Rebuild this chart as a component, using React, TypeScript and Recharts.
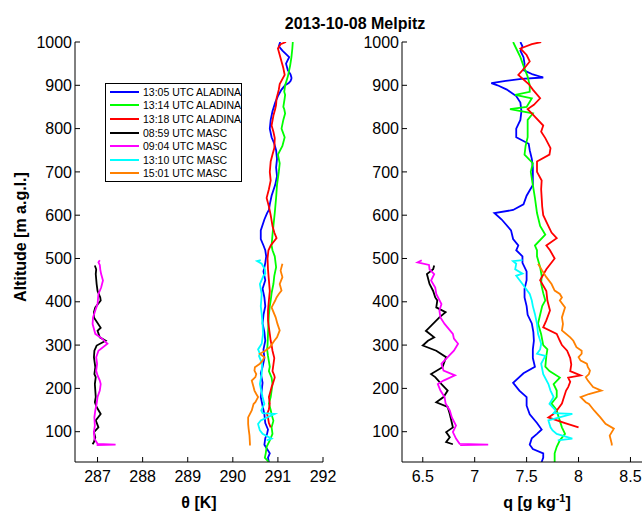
import React from 'react';
import { LineChart, Line, XAxis, YAxis, Legend } from 'recharts';

const FONT = '"Liberation Sans", Arial, Helvetica, sans-serif';

const seriesNames = [
  '13:05 UTC ALADINA',
  '13:14 UTC ALADINA',
  '13:18 UTC ALADINA',
  '08:59 UTC MASC',
  '09:04 UTC MASC',
  '13:10 UTC MASC',
  '15:01 UTC MASC',
];
const seriesColors = ['#0000ff', '#00ff00', '#ff0000', '#000000', '#ff00ff', '#00ffff', '#ff8000'];

const altTicks = [100, 200, 300, 400, 500, 600, 700, 800, 900, 1000];
const thetaTicks = [287, 288, 289, 290, 291, 292];
const qTicks = [6.5, 7, 7.5, 8, 8.5];

// 13:05 ALADINA
const a1305Alt = [30, 40, 50, 60, 70, 85, 95, 105, 120, 140, 160, 180, 195, 213, 235, 250, 270, 290, 310, 330, 350, 370, 390, 410, 430, 450, 470, 490, 505, 519, 530, 545, 565, 590, 605, 612, 625, 645, 670, 690, 710, 730, 750, 765, 780, 800, 820, 840, 860, 875, 890, 900, 905, 910, 915, 918, 925, 935, 950, 965, 980, 990, 1000];
const a1305Theta = [290.8, 290.78, 290.82, 290.76, 290.7, 290.72, 290.76, 290.78, 290.72, 290.7, 290.66, 290.62, 290.64, 290.66, 290.62, 290.66, 290.7, 290.68, 290.72, 290.7, 290.66, 290.68, 290.72, 290.7, 290.66, 290.72, 290.68, 290.72, 290.74, 290.72, 290.68, 290.62, 290.62, 290.7, 290.76, 290.8, 290.82, 290.86, 290.94, 290.98, 290.96, 290.98, 290.96, 290.92, 290.86, 290.82, 290.84, 290.88, 290.94, 291.0, 291.08, 291.16, 291.24, 291.28, 291.3, 291.3, 291.28, 291.22, 291.18, 291.25, 291.1, 291.02, 291.05];
const a1305Q = [7.645, 7.66, 7.66, 7.56, 7.53, 7.55, 7.6, 7.645, 7.6, 7.53, 7.5, 7.5, 7.43, 7.37, 7.47, 7.58, 7.56, 7.56, 7.57, 7.565, 7.55, 7.51, 7.5, 7.48, 7.48, 7.5, 7.5, 7.46, 7.46, 7.4, 7.42, 7.37, 7.35, 7.26, 7.19, 7.37, 7.47, 7.5, 7.56, 7.56, 7.56, 7.55, 7.53, 7.52, 7.4, 7.4, 7.44, 7.45, 7.44, 7.4, 7.31, 7.22, 7.16, 7.3, 7.45, 7.66, 7.56, 7.47, 7.48, 7.47, 7.44, 7.46, 7.44];

// 13:14 ALADINA
const a1314Alt = [30, 40, 50, 65, 80, 95, 110, 125, 140, 150, 165, 180, 195, 210, 225, 240, 250, 275, 290, 300, 325, 350, 370, 390, 403, 420, 441, 460, 480, 505, 519, 530, 555, 575, 605, 640, 670, 700, 720, 740, 760, 780, 800, 820, 835, 845, 850, 870, 878, 885, 900, 920, 945, 965, 985, 1000];
const a1314Theta = [290.8, 290.71, 290.73, 290.75, 290.82, 290.88, 290.86, 290.9, 290.86, 290.84, 290.8, 290.84, 290.86, 290.88, 290.86, 290.8, 290.82, 290.78, 290.76, 290.77, 290.78, 290.79, 290.8, 290.82, 290.84, 290.86, 290.9, 290.92, 290.96, 290.93, 290.88, 290.86, 290.88, 290.9, 290.93, 290.96, 290.98, 291.02, 291.04, 291.0, 291.1, 291.15, 291.08, 291.12, 291.16, 291.14, 291.12, 291.15, 291.16, 291.14, 291.16, 291.22, 291.27, 291.3, 291.32, 291.33];
const a1314Q = [7.77, 7.77, 7.77, 7.79, 7.82, 7.87, 7.84, 7.82, 7.8, 7.79, 7.74, 7.79, 7.79, 7.76, 7.82, 7.72, 7.68, 7.69, 7.7, 7.66, 7.64, 7.61, 7.63, 7.65, 7.68, 7.66, 7.64, 7.645, 7.63, 7.6, 7.6, 7.58, 7.68, 7.63, 7.6, 7.58, 7.56, 7.54, 7.56, 7.48, 7.49, 7.51, 7.51, 7.51, 7.56, 7.34, 7.5, 7.55, 7.39, 7.53, 7.53, 7.51, 7.47, 7.44, 7.4, 7.37];

// 13:18 ALADINA
const a1318Alt = [110, 120, 133, 140, 152, 165, 180, 195, 203, 215, 225, 230, 240, 255, 270, 287, 300, 310, 326, 341, 357, 380, 403, 425, 450, 475, 500, 519, 530, 547, 560, 575, 600, 620, 640, 660, 680, 700, 724, 740, 755, 778, 793, 807, 830, 845, 855, 870, 890, 903, 924, 940, 955, 970, 985, 995, 1000];
const a1318Theta = [290.84, 290.8, 290.78, 290.76, 290.8, 290.82, 290.8, 290.84, 290.86, 290.9, 290.93, 290.92, 290.88, 290.9, 290.92, 290.88, 290.86, 290.84, 290.82, 290.8, 290.78, 290.78, 290.8, 290.82, 290.8, 290.78, 290.77, 290.79, 290.84, 290.97, 290.92, 290.88, 290.84, 290.8, 290.75, 290.8, 290.84, 290.82, 290.84, 290.88, 290.92, 290.93, 290.9, 290.86, 290.9, 290.94, 290.96, 290.97, 291.02, 291.04, 291.15, 291.12, 291.08, 291.04, 291.0, 291.06, 291.18];
const a1318Q = [8.0, 7.87, 7.71, 7.755, 7.8, 7.84, 7.86, 7.88, 7.9, 7.92, 7.9, 8.02, 7.92, 7.93, 7.92, 7.89, 7.84, 7.82, 7.79, 7.66, 7.69, 7.725, 7.7, 7.69, 7.63, 7.69, 7.77, 7.725, 7.69, 7.79, 7.74, 7.71, 7.66, 7.65, 7.645, 7.64, 7.645, 7.6, 7.6, 7.72, 7.73, 7.68, 7.64, 7.66, 7.57, 7.51, 7.57, 7.63, 7.56, 7.52, 7.42, 7.48, 7.53, 7.5, 7.44, 7.55, 7.64];

// 08:59 MASC
const m0859Alt = [71, 76, 87, 99, 110, 126, 141, 157, 168, 180, 195, 210, 226, 233, 249, 272, 287, 299, 310, 318, 333, 340, 364, 376, 387, 403, 410, 425, 441, 464, 475, 484];
const m0859Theta = [286.89, 286.92, 286.95, 286.92, 287.02, 286.96, 287.07, 286.98, 286.94, 286.96, 286.95, 286.94, 286.96, 286.93, 286.95, 286.92, 286.93, 286.98, 287.18, 287.05, 287.0, 287.07, 286.92, 286.92, 286.95, 287.07, 287.06, 287.0, 286.98, 286.96, 286.97, 286.94];
const m0859Q = [6.79, 6.725, 6.76, 6.725, 6.79, 6.775, 6.76, 6.74, 6.63, 6.7, 6.74, 6.68, 6.62, 6.58, 6.69, 6.725, 6.63, 6.5, 6.55, 6.61, 6.53, 6.56, 6.66, 6.72, 6.63, 6.64, 6.62, 6.6, 6.565, 6.54, 6.6, 6.61];

// 09:04 MASC
const m0904Alt = [69, 70, 72, 84, 99, 114, 133, 149, 165, 180, 195, 210, 218, 230, 241, 257, 272, 287, 303, 315, 326, 349, 364, 380, 395, 418, 433, 449, 464, 475, 485, 491, 496];
const m0904Theta = [286.98, 287.4, 287.0, 286.93, 286.92, 286.94, 286.93, 286.95, 286.98, 287.0, 287.05, 287.07, 287.05, 287.0, 286.97, 286.99, 286.97, 287.02, 287.22, 287.1, 286.95, 286.89, 286.9, 286.95, 287.0, 287.02, 287.08, 287.12, 287.08, 287.06, 287.05, 287.02, 287.05];
const m0904Q = [6.86, 7.13, 6.855, 6.82, 6.79, 6.82, 6.78, 6.76, 6.72, 6.71, 6.67, 6.645, 6.7, 6.81, 6.7, 6.68, 6.74, 6.8, 6.84, 6.8, 6.79, 6.71, 6.67, 6.66, 6.68, 6.63, 6.62, 6.58, 6.61, 6.565, 6.56, 6.45, 6.49];

// 13:10 MASC
const m1310Alt = [80, 84, 95, 103, 110, 118, 126, 141, 143, 149, 164, 180, 195, 210, 233, 257, 275, 280, 290, 303, 326, 349, 372, 390, 403, 418, 441, 460, 465, 475, 488, 494, 496];
const m1310Theta = [290.75, 290.86, 290.66, 290.6, 290.58, 290.56, 290.62, 290.93, 290.66, 290.63, 290.7, 290.66, 290.63, 290.6, 290.64, 290.65, 290.58, 290.6, 290.56, 290.64, 290.67, 290.66, 290.64, 290.62, 290.63, 290.64, 290.6, 290.68, 290.72, 290.71, 290.64, 290.54, 290.62];
const m1310Q = [7.8, 7.94, 7.79, 7.75, 7.73, 7.72, 7.71, 7.94, 7.76, 7.78, 7.72, 7.76, 7.73, 7.71, 7.66, 7.64, 7.68, 7.6, 7.63, 7.64, 7.61, 7.6, 7.58, 7.56, 7.55, 7.53, 7.46, 7.4, 7.46, 7.39, 7.4, 7.37, 7.46];

// 15:01 MASC
const m1501Alt = [68, 72, 91, 107, 118, 133, 149, 164, 168, 180, 187, 195, 203, 218, 226, 233, 241, 249, 257, 264, 272, 280, 287, 295, 310, 318, 334, 349, 364, 387, 403, 410, 418, 426, 441, 457, 472, 488];
const m1501Theta = [290.38, 290.38, 290.37, 290.35, 290.34, 290.34, 290.42, 290.46, 290.5, 290.56, 290.52, 290.48, 290.46, 290.42, 290.5, 290.52, 290.48, 290.49, 290.6, 290.66, 290.7, 290.6, 290.72, 290.82, 290.92, 290.98, 291.04, 290.99, 290.95, 290.86, 290.94, 290.97, 291.02, 291.08, 291.04, 291.1, 291.06, 291.1];
const m1501Q = [8.32, 8.32, 8.3, 8.34, 8.26, 8.21, 8.15, 8.1, 8.07, 8.02, 8.1, 8.22, 8.14, 8.09, 8.07, 8.1, 8.11, 8.09, 8.08, 8.02, 8.0, 8.03, 8.03, 7.98, 7.95, 7.92, 7.84, 7.85, 7.84, 7.87, 7.82, 7.84, 7.82, 7.77, 7.74, 7.69, 7.65, 7.61];

const profiles = [
  { alt: a1305Alt, theta: a1305Theta, q: a1305Q },
  { alt: a1314Alt, theta: a1314Theta, q: a1314Q },
  { alt: a1318Alt, theta: a1318Theta, q: a1318Q },
  { alt: m0859Alt, theta: m0859Theta, q: m0859Q },
  { alt: m0904Alt, theta: m0904Theta, q: m0904Q },
  { alt: m1310Alt, theta: m1310Theta, q: m1310Q },
  { alt: m1501Alt, theta: m1501Theta, q: m1501Q },
].map((p, i) => ({ ...p, name: seriesNames[i], color: seriesColors[i] }));

const toPoints = (alt: number[], vals: number[]) => alt.map((z, i) => ({ x: vals[i], z }));

const axisLine = { stroke: '#000', strokeWidth: 1 };
const tickText = { fontSize: 16, fill: '#000', fontFamily: FONT };

const LegendBox = () => (
  <div
    style={{
      border: '1px solid #000',
      background: '#fff',
      padding: '1px 0',
      width: 135,
      fontFamily: FONT,
      fontSize: 10.5,
      color: '#000',
      boxSizing: 'content-box',
    }}
  >
    {profiles.map((p) => (
      <div key={p.name} style={{ display: 'flex', alignItems: 'center', height: 13.6, whiteSpace: 'nowrap' }}>
        <span style={{ display: 'inline-block', width: 29, marginLeft: 4, marginRight: 4, borderTop: `2px solid ${p.color}` }} />
        <span>{p.name}</span>
      </div>
    ))}
  </div>
);

type PanelProps = {
  field: 'theta' | 'q';
  domain: [number, number];
  ticks: number[];
  width: number;
  yWidth: number;
  right: number;
  legend?: boolean;
};

const Panel = ({ field, domain, ticks, width, yWidth, right, legend }: PanelProps) => (
  <LineChart width={width} height={511} margin={{ top: 42, right, bottom: 19, left: 0 }}>
    <XAxis
      xAxisId="b"
      type="number"
      dataKey="x"
      domain={domain}
      ticks={ticks}
      interval={0}
      allowDataOverflow
      height={30}
      tickSize={-5}
      tickMargin={14}
      tick={tickText}
      axisLine={axisLine}
      tickLine={axisLine}
    />
    <XAxis
      xAxisId="t"
      orientation="top"
      type="number"
      dataKey="x"
      domain={domain}
      ticks={ticks}
      interval={0}
      allowDataOverflow
      height={0}
      tickSize={-5}
      tick={false}
      axisLine={axisLine}
      tickLine={axisLine}
    />
    <YAxis
      yAxisId="l"
      type="number"
      domain={[30, 1000]}
      ticks={altTicks}
      interval={0}
      allowDataOverflow
      width={yWidth}
      tickSize={-5}
      tickMargin={8}
      tick={tickText}
      axisLine={axisLine}
      tickLine={axisLine}
    />
    <YAxis
      yAxisId="r"
      orientation="right"
      type="number"
      domain={[30, 1000]}
      ticks={altTicks}
      interval={0}
      allowDataOverflow
      width={0}
      tickSize={-5}
      tick={false}
      axisLine={axisLine}
      tickLine={axisLine}
    />
    {legend && (
      <Legend
        layout="horizontal"
        align="center"
        verticalAlign="middle"
        content={() => <LegendBox />}
        wrapperStyle={{ left: 105, top: 83, width: 137, height: 99 }}
      />
    )}
    {profiles.map((p) => (
      <Line
        key={p.name}
        name={p.name}
        xAxisId="b"
        yAxisId="l"
        data={toPoints(p.alt, p[field])}
        dataKey="z"
        stroke={p.color}
        strokeWidth={1.8}
        dot={false}
        activeDot={false}
        isAnimationActive={false}
      />
    ))}
  </LineChart>
);

const labelStyle: React.CSSProperties = {
  position: 'absolute',
  fontFamily: FONT,
  fontWeight: 'bold',
  fontSize: 16,
  lineHeight: '18px',
  textAlign: 'center',
  whiteSpace: 'nowrap',
  color: '#000',
};

export default function App() {
  return (
    <div style={{ position: 'fixed', left: 0, top: 0, width: 642, height: 511, overflow: 'hidden', background: '#fff' }}>
      <div style={{ position: 'absolute', left: 0, top: 0 }}>
        <Panel field="theta" domain={[286.5, 292]} ticks={thetaTicks} width={345} yWidth={75} right={22} legend />
      </div>
      <div style={{ position: 'absolute', left: 330, top: 0 }}>
        <Panel field="q" domain={[6.3, 8.9]} ticks={qTicks} width={360} yWidth={72} right={18} />
      </div>
      <div style={{ ...labelStyle, left: 255, width: 200, top: 15 }}>2013-10-08 Melpitz</div>
      <div style={{ ...labelStyle, left: 99, width: 200, top: 494 }}>θ [K]</div>
      <div style={{ ...labelStyle, left: 437, width: 200, top: 494 }}>
        q [g kg<sup style={{ fontSize: 11, lineHeight: 0 }}>-1</sup>]
      </div>
      <div
        style={{
          ...labelStyle,
          left: 21 - 100,
          width: 200,
          top: 237 - 9,
          transform: 'rotate(-90deg)',
          transformOrigin: '50% 50%',
        }}
      >
        Altitude [m a.g.l.]
      </div>
    </div>
  );
}
